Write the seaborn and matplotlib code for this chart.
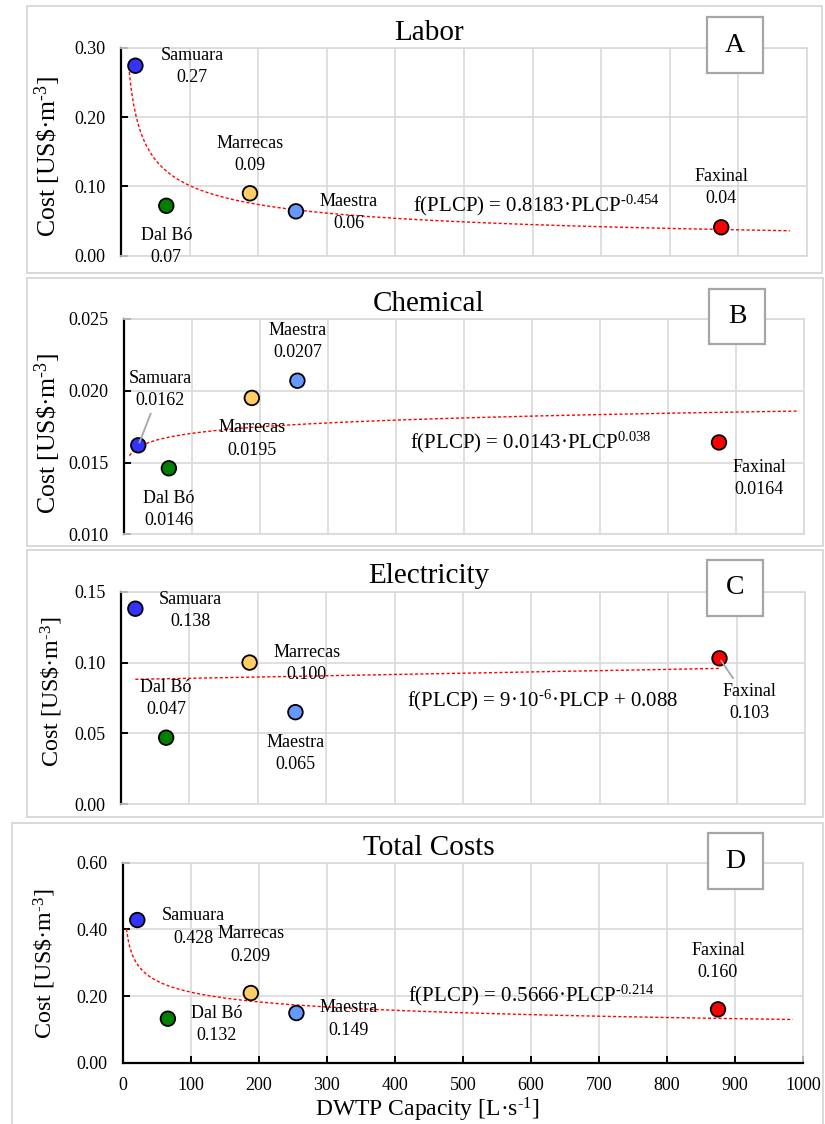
import numpy as np
import pandas as pd
import matplotlib
matplotlib.use("Agg")
import matplotlib.pyplot as plt
from matplotlib.patches import Rectangle
from matplotlib.ticker import MultipleLocator, FormatStrFormatter
import seaborn as sns

# ---- data -------------------------------------------------------------
sites = ["Samuara", "Dal Bó", "Marrecas", "Maestra", "Faxinal"]
capacity = [21, 66, 188, 255, 875]          # L/s
labor = [0.274, 0.072, 0.090, 0.064, 0.041]
chemical = [0.0162, 0.0146, 0.0195, 0.0207, 0.0164]
electricity = [0.138, 0.047, 0.100, 0.065, 0.103]
total = [0.428, 0.132, 0.209, 0.149, 0.160]
site_colors = ["#3333FF", "#008000", "#FFCC66", "#6699FF", "#FF0000"]

# trend-line coefficients: power a*x^b, linear a*x + b
labor_fit = (0.8183, -0.454)
chemical_fit = (0.0143, 0.038)
electricity_fit = (9e-6, 0.088)
total_fit = (0.5666, -0.214)

x_ticks = [0, 100, 200, 300, 400, 500, 600, 700, 800, 900, 1000]

# ---- style ------------------------------------------------------------
sns.set_style("white")
plt.rcParams["font.family"] = ["Liberation Serif", "DejaVu Serif"]
plt.rcParams["mathtext.fontset"] = "custom"
plt.rcParams["mathtext.rm"] = "Liberation Serif"
plt.rcParams["mathtext.it"] = "Liberation Serif:italic"
plt.rcParams["mathtext.bf"] = "Liberation Serif:bold"
plt.rcParams["mathtext.default"] = "regular"
for key in ["text.color", "axes.labelcolor", "xtick.color", "ytick.color"]:
    plt.rcParams[key] = "black"

W, H = 825, 1124
fig = plt.figure(figsize=(W / 100, H / 100), dpi=100)
PT = 0.72  # points per pixel at 100 dpi


def fx(px):
    return px / W


def fy(py):
    return 1 - py / H


df = pd.DataFrame({"site": sites, "capacity": capacity, "labor": labor,
                   "chemical": chemical, "electricity": electricity,
                   "total": total})
palette = dict(zip(sites, site_colors))

GRID = "#d9d9d9"

panels = [
    dict(col="labor", fmt=".2f", ylim=(0, 0.30), ystep=0.10, yfmt="%.2f",
         title="Labor", letter="A", kind="power", coef=labor_fit, xr=(12, 975),
         eq="f(PLCP) = 0.8183·PLCP$^{\\text{-}0.454}$", eq_pos=(413, 211),
         axbox=(121, 47.7, 807, 255.7), outer=(27, 6, 822, 273),
         lbox=(707, 17, 763, 73), title_y=40, ylab=(48, 156, 18.5),
         offs=[(57, 1), (0, 41), (0, -39), (53, 1), (0, -40)], leader=[]),
    dict(col="chemical", fmt=".4f", ylim=(0.010, 0.025), ystep=0.005, yfmt="%.3f",
         title="Chemical", letter="B", kind="power", coef=chemical_fit, xr=(8, 990),
         eq="f(PLCP) = 0.0143·PLCP$^{0.038}$", eq_pos=(410, 448),
         axbox=(124, 319, 804, 534.3), outer=(27, 278, 823, 546),
         lbox=(709, 289, 765, 344), title_y=311, ylab=(48, 433, 18.5),
         offs=[(22, -56), (0, 41), (0, 41), (0, -39), (40, 36)], leader=[0]),
    dict(col="electricity", fmt=".3f", ylim=(0, 0.15), ystep=0.05, yfmt="%.2f",
         title="Electricity", letter="C", kind="linear", coef=electricity_fit,
         xr=(min(capacity), max(capacity)),
         eq="f(PLCP) = 9·10$^{\\text{-}6}$·PLCP + 0.088", eq_pos=(407, 706),
         axbox=(121, 591.7, 805, 804.3), outer=(27, 550, 823, 817),
         lbox=(707, 560, 763, 616), title_y=583, ylab=(52, 692, 17.3),
         offs=[(55, 2), (0, -39), (57, 1), (0, 41), (30, 44)], leader=[4]),
    dict(col="total", fmt=".3f", ylim=(0, 0.60), ystep=0.20, yfmt="%.2f",
         title="Total Costs", letter="D", kind="power", coef=total_fit, xr=(5, 985),
         eq="f(PLCP) = 0.5666·PLCP$^{\\text{-}0.214}$", eq_pos=(408, 1001),
         axbox=(123, 862.7, 803, 1062.7), outer=(11.6, 823, 823, 1140),
         lbox=(708, 833, 763, 889), title_y=855, ylab=(45, 964, 17.3),
         offs=[(56, 7), (49, 6), (0, -48), (52, 6), (0, -48)], leader=[]),
]

for i, p in enumerate(panels):
    x0, y0, x1, y1 = p["axbox"]
    ax = fig.add_axes([fx(x0), fy(y1), (x1 - x0) / W, (y1 - y0) / H])
    ax.set_axisbelow(True)

    # trend line
    xs = np.linspace(p["xr"][0], p["xr"][1], 300)
    a, b = p["coef"]
    ys = a * xs ** b if p["kind"] == "power" else a * xs + b
    ax.plot(xs, ys, color="red", lw=1.0, linestyle=(0, (2.2, 1.6)), zorder=3)

    # site markers
    sns.scatterplot(data=df, x="capacity", y=p["col"], hue="site",
                    palette=palette, s=110, edgecolor="black", linewidth=1.3,
                    legend=False, ax=ax, zorder=5, clip_on=False)

    # site labels
    for j, (name, xv, yv) in enumerate(zip(sites, capacity, df[p["col"]])):
        dx, dy = p["offs"][j]
        kw = {}
        if j in p["leader"]:
            kw["arrowprops"] = dict(arrowstyle="-", color="#a6a6a6", lw=1.3,
                                    shrinkA=1, shrinkB=2)
        ax.annotate(f"{name}\n{yv:{p['fmt']}}", xy=(xv, yv),
                    xytext=(dx * PT, -dy * PT), textcoords="offset points",
                    ha="center", va="center", fontsize=13, linespacing=1.4,
                    zorder=6, **kw)

    # axes
    ax.set_xlim(0, 1000)
    ax.set_ylim(*p["ylim"])
    ax.set_xticks(x_ticks)
    ax.yaxis.set_major_locator(MultipleLocator(p["ystep"]))
    ax.yaxis.set_major_formatter(FormatStrFormatter(p["yfmt"]))
    ax.grid(True, color=GRID, lw=1.2)
    ax.set_xlabel("")
    ax.set_ylabel("")
    for s in ["top", "right", "bottom"]:
        ax.spines[s].set_color(GRID)
        ax.spines[s].set_linewidth(1.2)
    ax.spines["left"].set_color("black")
    ax.spines["left"].set_linewidth(1.6)
    ax.tick_params(axis="y", direction="in", length=5, width=1.4,
                   color="black", labelsize=13, pad=11, left=True)
    if i < 3:
        ax.tick_params(axis="x", length=0, labelbottom=False)
    else:
        ax.spines["bottom"].set_color("black")
        ax.spines["bottom"].set_linewidth(1.6)
        ax.tick_params(axis="x", direction="in", length=5, width=1.4,
                       color="black", labelsize=13, pad=10, bottom=True)

    # outer frame
    ox0, oy0, ox1, oy1 = p["outer"]
    fig.add_artist(Rectangle((fx(ox0), fy(oy1)), (ox1 - ox0) / W, (oy1 - oy0) / H,
                             transform=fig.transFigure, fill=False, ec=GRID,
                             lw=1.4, zorder=0))

    # title, y label, equation
    fig.text(fx(429), fy(p["title_y"]), p["title"], ha="center", va="baseline",
             fontsize=21)
    lx, ly, ls = p["ylab"]
    fig.text(fx(lx), fy(ly), "Cost [US\\$·m$^{\\text{-}3}$]", rotation=90,
             ha="center", va="center", fontsize=ls)
    fig.text(fx(p["eq_pos"][0]), fy(p["eq_pos"][1]), p["eq"], ha="left",
             va="baseline", fontsize=15)

    # panel letter box
    bx0, by0, bx1, by1 = p["lbox"]
    fig.add_artist(Rectangle((fx(bx0), fy(by1)), (bx1 - bx0) / W, (by1 - by0) / H,
                             transform=fig.transFigure, fc="white", ec="#a6a6a6",
                             lw=1.6, zorder=8))
    fig.text(fx((bx0 + bx1) / 2), fy((by0 + by1) / 2), p["letter"], ha="center",
             va="center", fontsize=20, zorder=9)

fig.text(fx(427), fy(1110), "DWTP Capacity [L·s$^{\\text{-}1}$]", ha="center",
         va="center", fontsize=17)

fig.savefig("out.png", dpi=100, facecolor="white")
